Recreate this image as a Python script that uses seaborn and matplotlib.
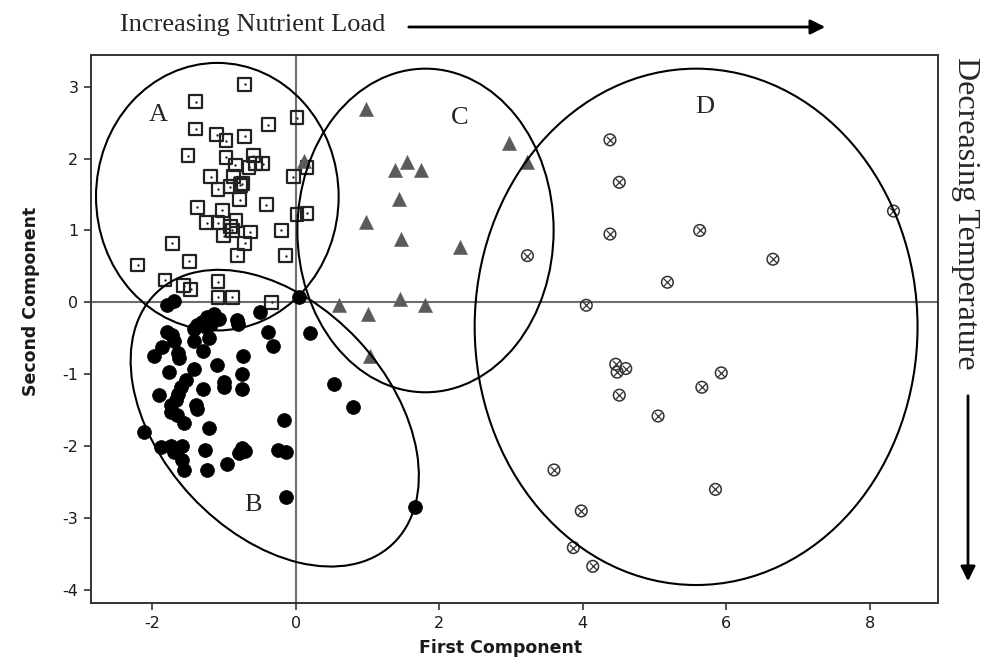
import matplotlib
matplotlib.use("Agg")
import matplotlib.pyplot as plt
from matplotlib.patches import Ellipse, FancyArrowPatch
import seaborn as sns
import pandas as pd

# ---- data ----
a_x = [-0.71, -1.39, 0.02, -0.38, -1.39, -1.10, -0.97, -0.71, -1.50, -0.97,
       -0.59, -0.84, -0.65, -0.56, -0.46, -0.03, 0.16, -1.18, -0.86, -0.91,
       -0.77, -0.74, -1.08, -0.78, -0.41, -1.37, -1.02, -0.83, -1.24, -1.08,
       -0.91, -0.88, -1.00, -0.63, -0.20, 0.02, 0.16, -0.71, -0.81, -0.14,
       -1.72, -1.48, -2.20, -1.82, -1.56, -1.46, -1.08, -1.08, -0.88, -0.33]
a_y = [3.03, 2.79, 2.57, 2.47, 2.41, 2.33, 2.25, 2.31, 2.04, 2.02,
       2.04, 1.91, 1.88, 1.93, 1.93, 1.75, 1.88, 1.75, 1.75, 1.61,
       1.63, 1.65, 1.57, 1.43, 1.36, 1.32, 1.28, 1.14, 1.11, 1.11,
       1.05, 1.00, 0.93, 0.98, 1.00, 1.22, 1.24, 0.82, 0.65, 0.65,
       0.82, 0.57, 0.52, 0.31, 0.23, 0.18, 0.29, 0.07, 0.07, 0.00]

b_x = [-1.79, -1.69, 0.05, -0.49, -0.81, -0.80, -1.14, -1.23, -1.30, -1.37,
       -1.42, -1.07, -1.18, -1.25, -1.79, -1.72, -1.42, -1.21, -0.38, -0.31,
       0.20, -1.86, -1.97, -1.69, -1.64, -1.63, -1.29, -0.73, -1.10, -1.76,
       -1.42, -0.75, -1.00, -1.00, -1.53, -1.60, -1.64, -1.67, -1.29, -0.75,
       -1.90, -1.39, -1.37, -1.74, -1.74, -1.65, -1.56, 0.53, 0.80, -0.16,
       -1.21, -2.11, -1.88, -1.74, -1.58, -1.69, -1.26, -0.74, -0.79, -0.70,
       -0.25, -0.14, -1.58, -1.56, -1.24, -0.95, -0.14, 1.67]
b_y = [-0.03, 0.02, 0.07, -0.14, -0.25, -0.30, -0.16, -0.20, -0.27, -0.32,
       -0.37, -0.23, -0.30, -0.34, -0.41, -0.46, -0.53, -0.50, -0.41, -0.60,
       -0.43, -0.62, -0.74, -0.53, -0.71, -0.78, -0.68, -0.74, -0.87, -0.97,
       -0.92, -1.00, -1.11, -1.17, -1.08, -1.18, -1.27, -1.36, -1.21, -1.21,
       -1.29, -1.42, -1.48, -1.43, -1.52, -1.57, -1.68, -1.13, -1.45, -1.64,
       -1.75, -1.80, -2.01, -1.99, -1.99, -2.08, -2.05, -2.03, -2.09, -2.06,
       -2.05, -2.08, -2.19, -2.33, -2.33, -2.25, -2.71, -2.84]

c_x = [0.98, 2.98, 3.23, 0.12, 1.55, 1.38, 1.75, 1.44, 0.98, 1.47,
       2.29, 0.61, 1.46, 1.81, 1.01, 1.03]
c_y = [2.69, 2.21, 1.95, 1.97, 1.95, 1.84, 1.84, 1.44, 1.12, 0.88,
       0.77, -0.03, 0.05, -0.03, -0.16, -0.74]

d_x = [4.38, 4.51, 4.38, 5.63, 6.65, 8.33, 3.23, 5.18, 4.05, 4.46,
       4.60, 4.48, 5.93, 5.66, 4.51, 5.05, 3.60, 5.85, 3.98, 3.87, 4.14]
d_y = [2.26, 1.67, 0.95, 1.00, 0.60, 1.27, 0.65, 0.28, -0.04, -0.86,
       -0.92, -0.97, -0.98, -1.18, -1.29, -1.58, -2.33, -2.60, -2.90, -3.41, -3.67]

group_labels = ["A", "B", "C", "D"]
label_x = [-2.05, -0.72, 2.17, 5.57]
label_y = [2.60, -2.82, 2.57, 2.71]

# ellipses: center x, center y, width, height, angle
ell_cx = [-1.09, -0.29, 1.81, 5.58]
ell_cy = [1.47, -1.61, 1.00, -0.34]
ell_w = [3.38, 4.80, 3.57, 6.17]
ell_h = [3.72, 3.18, 4.50, 7.18]
ell_ang = [0, -47, 0, 0]

x_ticks = [-2, 0, 2, 4, 6, 8]
y_ticks = [3, 2, 1, 0, -1, -2, -3, -4]

# ---- plot ----
sns.set_style("white")
plt.rcParams["font.family"] = ["DejaVu Sans"]
plt.rcParams["axes.unicode_minus"] = False

fig = plt.figure(figsize=(9.87, 6.72), dpi=100)
ax = fig.add_axes([91 / 987, 1 - 603 / 672, (938 - 91) / 987, (603 - 55) / 672])

dfa = pd.DataFrame({"x": a_x, "y": a_y})
dfb = pd.DataFrame({"x": b_x, "y": b_y})
dfc = pd.DataFrame({"x": c_x, "y": c_y})
dfd = pd.DataFrame({"x": d_x, "y": d_y})

ax.axhline(0, color="#6e6e6e", lw=1.5, zorder=1)
ax.axvline(0, color="#6e6e6e", lw=1.5, zorder=1)

sns.scatterplot(data=dfa, x="x", y="y", ax=ax, marker="s", s=85,
                facecolor="none", edgecolor="#222222", linewidth=1.6, zorder=3)
sns.scatterplot(data=dfa, x="x", y="y", ax=ax, marker="o", s=3,
                color="#222222", linewidth=0, zorder=3)
sns.scatterplot(data=dfb, x="x", y="y", ax=ax, marker="o", s=100,
                color="black", edgecolor="black", linewidth=0.5, zorder=3)
sns.scatterplot(data=dfc, x="x", y="y", ax=ax, marker="^", s=105,
                color="#5a5a5a", edgecolor="#5a5a5a", linewidth=0.3, zorder=3)
sns.scatterplot(data=dfd, x="x", y="y", ax=ax, marker="o", s=70,
                facecolor="none", edgecolor="#333333", linewidth=1.1, zorder=3)
sns.scatterplot(data=dfd, x="x", y="y", ax=ax, marker="x", s=28,
                color="#333333", linewidth=0.9, zorder=3)

for cx, cy, w, h, ang in zip(ell_cx, ell_cy, ell_w, ell_h, ell_ang):
    ax.add_patch(Ellipse((cx, cy), w, h, angle=ang, fill=False,
                         edgecolor="black", lw=1.5, zorder=4))

for lab, lx, ly in zip(group_labels, label_x, label_y):
    ax.text(lx, ly, lab, family="Liberation Serif", fontsize=19,
            ha="left", va="center", zorder=5)

ax.set_xlim(-2.85, 8.95)
ax.set_ylim(-4.18, 3.44)
ax.set_xticks(x_ticks)
ax.set_yticks(y_ticks)
ax.tick_params(axis="both", direction="out", length=5, width=1.2,
               color="#333333", labelsize=11.5, labelcolor="#1a1a1a",
               bottom=True, left=True, pad=4)
for sp in ax.spines.values():
    sp.set_color("#333333")
    sp.set_linewidth(1.4)

ax.set_xlabel("First Component", fontsize=12.5, fontweight="bold", color="#1a1a1a")
ax.set_ylabel("Second Component", fontsize=12.5, fontweight="bold", color="#1a1a1a")
ax.xaxis.set_label_coords(0.484, -0.065)
ax.yaxis.set_label_coords(-0.060, 0.55)

# annotations outside axes
fig.text(120 / 987, 1 - 25 / 672, "Increasing Nutrient Load",
         family="Liberation Serif", fontsize=19, ha="left", va="center")
fig.add_artist(FancyArrowPatch(
    (406 / 987, 1 - 27 / 672), (828 / 987, 1 - 27 / 672),
    transform=fig.transFigure, arrowstyle="-|>", mutation_scale=22,
    lw=2, color="black"))
fig.text(966 / 987, 1 - 213 / 672, "Decreasing Temperature",
         family="Liberation Serif", fontsize=23, rotation=-90,
         ha="center", va="center")
fig.add_artist(FancyArrowPatch(
    (968 / 987, 1 - 393 / 672), (968 / 987, 1 - 584 / 672),
    transform=fig.transFigure, arrowstyle="-|>", mutation_scale=22,
    lw=2, color="black"))

fig.savefig("out.png", dpi=100)
